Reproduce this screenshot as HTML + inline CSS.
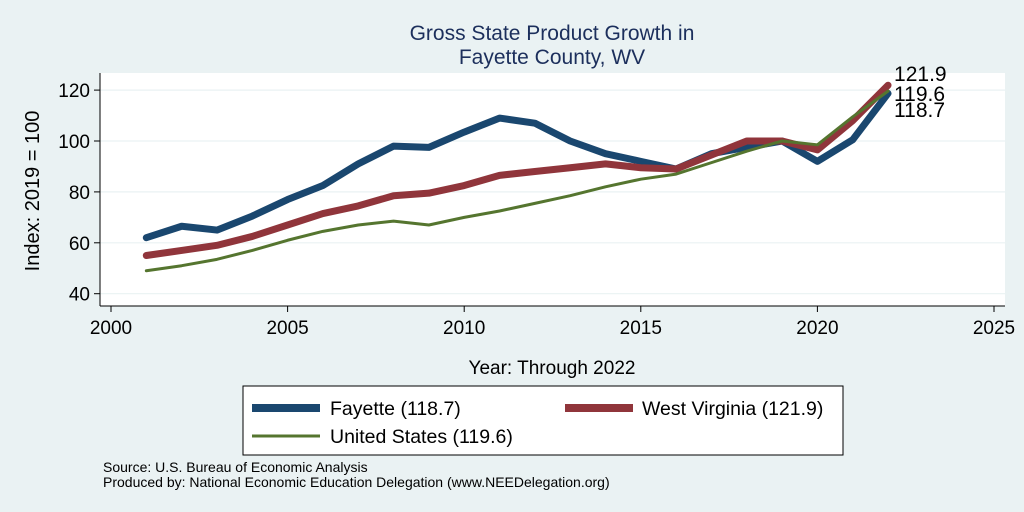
<!DOCTYPE html>
<html><head><meta charset="utf-8"><style>
body{margin:0;background:#eaf2f3;}
svg{display:block;font-family:"Liberation Sans",sans-serif;}
</style></head><body>
<svg width="1024" height="512" viewBox="0 0 1024 512">
<rect x="0" y="0" width="1024" height="512" fill="#eaf2f3"/>
<text x="552" y="40" text-anchor="middle" font-size="21" fill="#1c2f5c">Gross State Product Growth in</text>
<text x="552" y="64" text-anchor="middle" font-size="21" fill="#1c2f5c">Fayette County, WV</text>
<rect x="100" y="73" width="905" height="233" fill="#ffffff"/>
<g id="grid"></g>
<g id="axes"></g>
<g id="series"></g>
<text transform="translate(39,191) rotate(-90)" text-anchor="middle" font-size="20" fill="#000">Index: 2019 = 100</text>
<text x="552" y="374" text-anchor="middle" font-size="19" fill="#000">Year: Through 2022</text>
<g>
<rect x="243" y="386" width="600" height="69" fill="#fff" stroke="#000" stroke-width="1"/>
<line x1="252" y1="408" x2="320" y2="408" stroke="#1a476f" stroke-width="8"/>
<text x="330" y="415" font-size="19.5">Fayette  (118.7)</text>
<line x1="565" y1="408" x2="633" y2="408" stroke="#90353b" stroke-width="8"/>
<text x="642" y="415" font-size="19.5">West Virginia (121.9)</text>
<line x1="252" y1="436" x2="320" y2="436" stroke="#55752f" stroke-width="3"/>
<text x="330" y="443" font-size="19.5">United States (119.6)</text>
</g>
<text x="103" y="472" font-size="14">Source: U.S. Bureau of Economic Analysis</text>
<text x="103" y="487" font-size="14">Produced by: National Economic Education Delegation (www.NEEDelegation.org)</text>
</svg>
<script>
const years=[2001,2002,2003,2004,2005,2006,2007,2008,2009,2010,2011,2012,2013,2014,2015,2016,2017,2018,2019,2020,2021,2022];
const fayette=[62,66.5,65,70.5,77,82.5,91,98,97.5,103.5,109,107,100,95,92,89,95,97.5,100,92,100.5,118.7];
const westVirginia=[55,57,59,62.5,67,71.5,74.5,78.5,79.5,82.5,86.5,88,89.5,91,89.5,89,94.5,100,100,96.5,108,121.9];
const unitedStates=[49,51,53.5,57,61,64.5,67,68.5,67,70,72.5,75.5,78.5,82,85,87,91.5,96,100,98.5,109.5,119.6];
const xTicks=[2000,2005,2010,2015,2020,2025];
const yTicks=[40,60,80,100,120];
const NS="http://www.w3.org/2000/svg";
const X=v=>111+(v-2000)*35.32;
const Y=v=>141-(v-100)*2.545;
function mk(tag,attrs,parent){const e=document.createElementNS(NS,tag);for(const k in attrs)e.setAttribute(k,attrs[k]);parent.appendChild(e);return e;}
const grid=document.getElementById('grid'),axes=document.getElementById('axes'),ser=document.getElementById('series');
mk('line',{x1:100,y1:73,x2:100,y2:306,stroke:'#000','stroke-width':1},axes);
mk('line',{x1:100,y1:306,x2:1005,y2:306,stroke:'#000','stroke-width':1},axes);
yTicks.forEach(t=>{
 const g=mk('line',{x1:100,y1:Y(t),x2:1005,y2:Y(t),stroke:'#eaf2f3','stroke-width':1.2},grid);
 
 mk('line',{x1:94,y1:Y(t),x2:100,y2:Y(t),stroke:'#000'},axes);
 const tx=mk('text',{x:90,y:Y(t)+7,'text-anchor':'end','font-size':19},axes);tx.textContent=t;
 
});
xTicks.forEach(t=>{
 mk('line',{x1:X(t),y1:306,x2:X(t),y2:312,stroke:'#000'},axes);
 const tx=mk('text',{x:X(t),y:334,'text-anchor':'middle','font-size':19},axes);tx.textContent=t;
 
});
function line(vals,color,w,name){
 const p=mk('polyline',{points:vals.map((v,i)=>X(years[i])+','+Y(v)).join(' '),fill:'none',stroke:color,'stroke-width':w,'stroke-linejoin':'round','stroke-linecap':'round'},ser);
 
}
line(fayette,'#1a476f',7,'line-fayette');
line(westVirginia,'#90353b',7,'line-west-virginia');
line(unitedStates,'#55752f',3,'line-united-states');
const lx=X(years[years.length-1])+6;
[[westVirginia,81],[unitedStates,101],[fayette,117]].forEach(([s,yy])=>{
 const v=s[s.length-1];
 const t=mk('text',{x:lx,y:yy,'font-size':21},ser);t.textContent=v.toFixed(1);
 
});
</script>
</body></html>
